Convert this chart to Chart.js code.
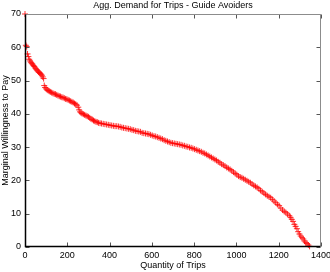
<!DOCTYPE html>
<html>
<head>
<meta charset="utf-8">
<script src="https://cdn.jsdelivr.net/npm/chart.js@4"></script>
<style>
html,body{margin:0;padding:0;background:#fff;}
#wrap{width:330px;height:272px;}
</style>
</head>
<body>
<div id="wrap"><canvas id="c" width="330" height="272"></canvas></div>
<script>
const chartTitle = "Agg. Demand for Trips - Guide Avoiders";
const xAxisLabel = "Quantity of Trips";
const yAxisLabel = "Marginal Willingness to Pay";
const xTickValues = [0, 200, 400, 600, 800, 1000, 1200, 1400];
const yTickValues = [0, 10, 20, 30, 40, 50, 60, 70];

const quantity = [
  0, 4, 8, 12, 16, 20, 24, 28, 32, 36, 40, 44, 48, 52, 56, 60, 64, 68, 72, 76, 80, 84, 88,
  91, 95, 100, 105, 110, 115, 120, 126, 132, 138, 144, 150, 156, 162, 168, 174, 180, 186, 192, 198,
  204, 210, 216, 222, 228, 234, 240, 246, 252, 256, 260, 265, 270, 276, 282, 288, 294,
  300, 306, 312, 318, 324, 330, 336, 342, 348, 355, 362, 370, 378, 386, 394, 402, 410, 418, 426,
  434, 442, 450, 458, 466, 474, 482, 490, 498, 506, 514, 522, 530, 538, 546, 554, 562, 570, 578,
  586, 594, 602, 610, 618, 626, 634, 642, 650, 658, 666, 674, 682, 690, 698, 706, 714, 722, 730,
  738, 746, 754, 762, 770, 778, 786, 794, 802, 810, 818, 826, 834, 842, 850, 858, 866, 874, 882,
  890, 898, 906, 914, 922, 930, 938, 946, 954, 962, 970, 978, 986, 994, 1002, 1010, 1018, 1026,
  1034, 1042, 1050, 1058, 1066, 1074, 1082, 1090, 1098, 1106, 1114, 1122, 1130, 1138, 1146, 1154,
  1162, 1170, 1178, 1186, 1194, 1202, 1210, 1218, 1226, 1234, 1242, 1250, 1256, 1262, 1268, 1274,
  1280, 1286, 1292, 1298, 1304, 1310, 1316, 1322, 1328, 1334, 1340, 1346
];
const willingness = [
  70, 60.6, 60.2, 58.0, 57.2, 56.4, 55.9, 55.5, 55.2, 54.9, 54.5, 54.2, 53.8, 53.5, 53.2, 52.9, 52.6, 52.4, 52.1, 51.9, 51.6, 51.1, 50.6,
  48.5, 47.9, 47.5, 47.2, 47.0, 46.8, 46.6, 46.4, 46.2, 46.0, 45.9, 45.7, 45.5, 45.3, 45.2, 45.0, 44.9, 44.7, 44.5, 44.4,
  44.2, 44.0, 43.8, 43.6, 43.4, 43.1, 42.9, 42.6, 42.0, 41.2, 40.6, 40.3, 40.1, 39.9, 39.7, 39.5, 39.3,
  39.1, 38.8, 38.5, 38.3, 38.0, 37.8, 37.6, 37.5, 37.3, 37.2, 37.1, 37.0, 36.9, 36.8, 36.7, 36.6, 36.5, 36.4, 36.3,
  36.3, 36.2, 36.1, 35.9, 35.8, 35.7, 35.6, 35.5, 35.4, 35.2, 35.1, 34.9, 34.8, 34.7, 34.6, 34.3, 34.2, 34.1, 34.0,
  33.9, 33.7, 33.5, 33.3, 33.2, 33.0, 32.8, 32.6, 32.4, 32.1, 31.9, 31.7, 31.5, 31.3, 31.2, 31.1, 31.0, 30.9, 30.8,
  30.7, 30.5, 30.4, 30.2, 30.1, 29.9, 29.8, 29.6, 29.4, 29.2, 29.0, 28.8, 28.6, 28.3, 28.1, 27.8, 27.5, 27.2, 26.9,
  26.6, 26.3, 26.0, 25.6, 25.3, 24.9, 24.6, 24.3, 23.9, 23.6, 23.3, 22.9, 22.5, 22.1, 21.7, 21.3, 21.0, 20.8,
  20.5, 20.2, 19.9, 19.6, 19.3, 18.9, 18.5, 18.2, 17.9, 17.5, 17.0, 16.6, 16.2, 15.8, 15.4, 15.1,
  14.8, 14.3, 13.8, 13.3, 12.8, 12.4, 11.7, 11.1, 10.7, 10.3, 9.9, 9.4, 8.9, 8.3, 7.7, 6.8,
  6.2, 5.5, 4.6, 3.9, 3.3, 2.8, 2.4, 1.8, 1.3, 1.0, 0.6, 0.2
];

const points = quantity.map((q, i) => ({x: q, y: willingness[i]}));
const FONT = "'Liberation Sans', Arial, Helvetica, sans-serif";

const matlabBox = {
  id: 'matlabBox',
  afterDatasetsDraw(chart) {
    const {ctx, chartArea: a, scales: {x, y}} = chart;
    const L = Math.round(a.left) + 0.5, R = Math.round(a.right) - 0.5;
    const T = Math.round(a.top) + 0.5, B = Math.round(a.bottom) - 0.5;
    ctx.save();
    ctx.lineWidth = 1;
    ctx.strokeStyle = '#555';
    xTickValues.forEach(v => {
      const px = Math.round(x.getPixelForValue(v)) + 0.5;
      ctx.beginPath();
      ctx.moveTo(px, B); ctx.lineTo(px, B - 4);
      ctx.moveTo(px, T); ctx.lineTo(px, T + 4);
      ctx.stroke();
    });
    yTickValues.forEach(v => {
      const py = Math.round(y.getPixelForValue(v)) + 0.5;
      ctx.beginPath();
      ctx.moveTo(L, py); ctx.lineTo(L + 4, py);
      ctx.moveTo(R, py); ctx.lineTo(R - 4, py);
      ctx.stroke();
    });
    ctx.strokeStyle = '#8c8c8c';
    ctx.beginPath();
    ctx.moveTo(L, T); ctx.lineTo(R, T); ctx.lineTo(R, B);
    ctx.stroke();
    ctx.strokeStyle = '#000';
    ctx.lineWidth = 1.5;
    ctx.beginPath();
    ctx.moveTo(L, T); ctx.lineTo(L, B); ctx.lineTo(R, B);
    ctx.stroke();
    ctx.restore();
  }
};

new Chart(document.getElementById('c'), {
  type: 'scatter',
  data: {
    datasets: [{
      data: points,
      showLine: false,
      clip: false,
      pointStyle: 'cross',
      pointRadius: 3,
      pointHoverRadius: 3,
      borderColor: 'rgba(255,0,0,0.9)',
      backgroundColor: 'rgba(255,0,0,0.9)',
      pointBorderWidth: 0.9
    }]
  },
  options: {
    responsive: false,
    animation: false,
    events: [],
    layout: {padding: {left: 0, right: 9, top: 0, bottom: 0}},
    plugins: {
      legend: {display: false},
      tooltip: {enabled: false},
      title: {
        display: true,
        fullSize: false,
        text: chartTitle,
        color: '#000',
        font: {family: FONT, size: 9, weight: 'normal', lineHeight: 1.2},
        padding: {top: 0, bottom: 3.2}
      }
    },
    scales: {
      x: {
        type: 'linear',
        min: 0, max: 1400,
        afterBuildTicks(s) { s.ticks = xTickValues.map(v => ({value: v})); },
        afterFit(s) { s.height = 25; s.paddingLeft = 0; s.paddingRight = 0; },
        grid: {display: false, drawTicks: false},
        border: {display: false},
        ticks: {color: '#000', font: {family: FONT, size: 9}, padding: 3, maxRotation: 0, autoSkip: false,
          callback: v => String(v)},
        title: {display: true, text: xAxisLabel, color: '#000',
          font: {family: FONT, size: 9, lineHeight: 1.2}, padding: {top: 0, bottom: 1}}
      },
      y: {
        type: 'linear',
        min: 0, max: 70,
        afterBuildTicks(s) { s.ticks = yTickValues.map(v => ({value: v})); },
        afterFit(s) { s.width = 25; s.paddingTop = 0; s.paddingBottom = 0; },
        grid: {display: false, drawTicks: false},
        border: {display: false},
        ticks: {color: '#000', font: {family: FONT, size: 9}, padding: 4, autoSkip: false,
          callback: v => String(v)},
        title: {display: true, text: yAxisLabel, color: '#000',
          font: {family: FONT, size: 9, lineHeight: 1.2}, padding: {top: 0, bottom: 0}}
      }
    }
  },
  plugins: [matlabBox]
});
</script>
</body>
</html>
